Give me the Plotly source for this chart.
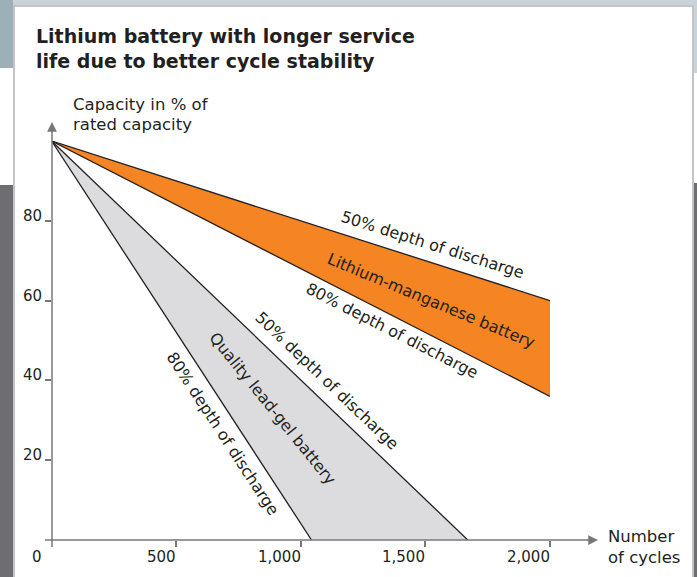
import plotly.graph_objects as go

W, H = 697, 577

# ---- data ----
li_cycles = [0, 2000]
li_dod50 = [100, 60]          # Lithium-manganese, 50% depth of discharge
li_dod80 = [100, 36]          # Lithium-manganese, 80% depth of discharge
lead_cycles_dod50 = [0, 1670]  # Lead-gel, 50% DoD reaches 0 capacity
lead_cycles_dod80 = [0, 1043]  # Lead-gel, 80% DoD reaches 0 capacity
lead_capacity = [100, 0]
x_ticks = [500, 1000, 1500, 2000]
x_ticklabels = ["500", "1,000", "1,500", "2,000"]
y_ticks = [20, 40, 60, 80]
y_ticklabels = ["20", "40", "60", "80"]

ORANGE = "#F58423"
GREY_FILL = "#DCDCDE"
LINE = "#231F20"
AXIS = "#77777B"
TXT = "#231F20"
FONT = "DejaVu Sans"

def px(x):
    return x / W

def py(y):
    return 1 - y / H

fig = go.Figure()

# lead-gel band
fig.add_trace(go.Scatter(
    x=lead_cycles_dod50 + lead_cycles_dod80[::-1],
    y=lead_capacity + lead_capacity[::-1],
    fill="toself", fillcolor=GREY_FILL, mode="none", hoverinfo="skip"))
fig.add_trace(go.Scatter(x=lead_cycles_dod50, y=lead_capacity, mode="lines",
                         line=dict(color=LINE, width=1.3)))
fig.add_trace(go.Scatter(x=lead_cycles_dod80, y=lead_capacity, mode="lines",
                         line=dict(color=LINE, width=1.3)))
# lithium band
fig.add_trace(go.Scatter(x=li_cycles, y=li_dod50, mode="lines",
                         line=dict(color=LINE, width=1.3)))
fig.add_trace(go.Scatter(x=li_cycles, y=li_dod80, mode="lines", fill="tonexty",
                         fillcolor=ORANGE, line=dict(color=LINE, width=1.3)))

x0px, x1px = 51.6, 550.0
y0px, y1px = 540.0, 141.0

shapes = []
# decorative page background
shapes += [
    dict(type="rect", xref="paper", yref="paper", x0=0, x1=1, y0=py(6), y1=1,
         fillcolor="#C9D3D8", line=dict(width=0), layer="below"),
    dict(type="rect", xref="paper", yref="paper", x0=0, x1=px(13), y0=py(68), y1=1,
         fillcolor="#9DB0BA", line=dict(width=0), layer="below"),
    dict(type="rect", xref="paper", yref="paper", x0=0, x1=px(13), y0=0, y1=py(185),
         fillcolor="#6E6D72", line=dict(width=0), layer="below"),
    dict(type="rect", xref="paper", yref="paper", x0=px(694), x1=1, y0=py(73), y1=1,
         fillcolor="#C9D3D8", line=dict(width=0), layer="below"),
    dict(type="rect", xref="paper", yref="paper", x0=px(694), x1=1, y0=0, y1=py(183),
         fillcolor="#6E6D72", line=dict(width=0), layer="below"),
    dict(type="rect", xref="paper", yref="paper", x0=px(14), x1=px(693), y0=-0.01, y1=py(6),
         fillcolor="white", line=dict(color="#C4C4C8", width=2), layer="below"),
]
# axes lines
shapes += [
    dict(type="line", xref="paper", yref="paper", x0=px(52), x1=px(52), y0=py(547), y1=py(128),
         line=dict(color=AXIS, width=1.5)),
    dict(type="line", xref="paper", yref="paper", x0=px(45), x1=px(590), y0=py(540), y1=py(540),
         line=dict(color=AXIS, width=1.5)),
]

ann = []
# arrowheads
ann.append(dict(xref="paper", yref="paper", x=px(52), y=py(122), ax=0, ay=12, text="",
                showarrow=True, arrowhead=2, arrowsize=1.3, arrowwidth=1.5, arrowcolor=AXIS))
ann.append(dict(xref="paper", yref="paper", x=px(598), y=py(540), ax=-12, ay=0, text="",
                showarrow=True, arrowhead=2, arrowsize=1.3, arrowwidth=1.5, arrowcolor=AXIS))

# title
ann.append(dict(xref="paper", yref="paper", x=px(34), y=py(36), xanchor="left", yanchor="middle",
                text="Lithium battery with longer service", showarrow=False,
                font=dict(family=FONT, size=19, color=TXT, weight="bold")))
ann.append(dict(xref="paper", yref="paper", x=px(34), y=py(61), xanchor="left", yanchor="middle",
                text="life due to better cycle stability", showarrow=False,
                font=dict(family=FONT, size=19, color=TXT, weight="bold")))
# axis titles
ann.append(dict(xref="paper", yref="paper", x=px(71), y=py(104), xanchor="left", yanchor="middle",
                text="Capacity in % of", showarrow=False, font=dict(family=FONT, size=16.5, color=TXT)))
ann.append(dict(xref="paper", yref="paper", x=px(71), y=py(125), xanchor="left", yanchor="middle",
                text="rated capacity", showarrow=False, font=dict(family=FONT, size=16.5, color=TXT)))
ann.append(dict(xref="paper", yref="paper", x=px(606), y=py(536), xanchor="left", yanchor="middle",
                text="Number", showarrow=False, font=dict(family=FONT, size=16.5, color=TXT)))
ann.append(dict(xref="paper", yref="paper", x=px(606), y=py(557), xanchor="left", yanchor="middle",
                text="of cycles", showarrow=False, font=dict(family=FONT, size=16.5, color=TXT)))

# tick labels (sit to the left of their tick, as in the reference)
tick_font = dict(family=FONT, size=15, color=TXT)
ann.append(dict(x=0, y=0, xref="x", yref="y", text="0", showarrow=False, xanchor="right",
                yanchor="middle", xshift=-8, yshift=-17, font=tick_font))
for v, t in zip(x_ticks, x_ticklabels):
    ann.append(dict(x=v, y=0, xref="x", yref="y", text=t, showarrow=False, xanchor="right",
                    yanchor="middle", xshift=2, yshift=-17, font=tick_font))
for v, t in zip(y_ticks, y_ticklabels):
    ann.append(dict(x=0, y=v, xref="x", yref="y", text=t, showarrow=False, xanchor="right",
                    yanchor="middle", xshift=-8, yshift=5, font=tick_font))

def dx(p):
    return (p - x0px) / (x1px - x0px) * 2000

def dy(p):
    return (y0px - p) / (y0px - y1px) * 100

labels = [
    ("50% depth of discharge", 432, 245, 17.5),
    ("Lithium-manganese battery", 431, 300, 22.5),
    ("80% depth of discharge", 392, 330, 27),
    ("50% depth of discharge", 327, 380, 43.7),
    ("Quality lead-gel battery", 273, 408, 51),
    ("80% depth of discharge", 223, 433, 56.8),
]
for t, lx, ly, ang in labels:
    ann.append(dict(x=dx(lx), y=dy(ly), xref="x", yref="y", text=t, textangle=ang,
                    showarrow=False, xanchor="center", yanchor="middle",
                    font=dict(family=FONT, size=16, color=TXT)))

fig.update_layout(
    width=W, height=H, autosize=False,
    margin=dict(l=0, r=0, t=0, b=0, pad=0),
    paper_bgcolor="white", plot_bgcolor="rgba(0,0,0,0)",
    showlegend=False,
    shapes=shapes, annotations=ann,
    xaxis=dict(domain=[px(x0px), px(x1px)], range=[0, 2000], showgrid=False, zeroline=False,
               showline=False, tickmode="array", tickvals=x_ticks, showticklabels=False,
               ticks="outside", ticklen=6, tickwidth=1.5, tickcolor=AXIS,
               automargin=False, fixedrange=True),
    yaxis=dict(domain=[py(y0px), py(y1px)], range=[0, 100], showgrid=False, zeroline=False,
               showline=False, tickmode="array", tickvals=y_ticks, showticklabels=False,
               ticks="outside", ticklen=6, tickwidth=1.5, tickcolor=AXIS,
               automargin=False, fixedrange=True),
)

post = (
    "document.documentElement.style.margin='0';"
    "document.documentElement.style.overflow='hidden';"
    "document.body.style.margin='0';"
    "document.body.style.overflow='hidden';"
)
fig.write_html("out.html", config={"displayModeBar": False}, post_script=post)
